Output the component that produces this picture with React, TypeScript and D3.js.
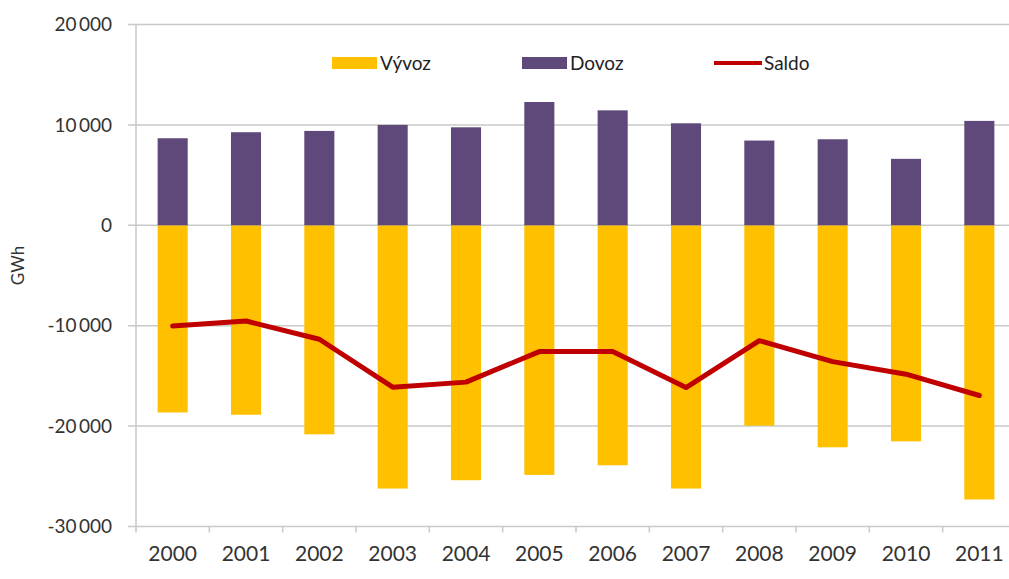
import React from "react";
import * as d3 from "d3";

const years = ["2000","2001","2002","2003","2004","2005","2006","2007","2008","2009","2010","2011"];
const vyvoz = [-18640,-18870,-20820,-26220,-25390,-24860,-23900,-26220,-19960,-22110,-21520,-27310];
const dovoz = [8670,9270,9400,10000,9760,12280,11450,10160,8440,8570,6620,10400];
const saldo = [-10030,-9530,-11350,-16120,-15620,-12580,-12580,-16160,-11490,-13580,-14830,-16950];
const yTicks = [20000,10000,0,-10000,-20000,-30000];
const legendItems = ["Vývoz","Dovoz","Saldo"];

const W = 1009, H = 579;
const FONT = "Lato, 'Open Sans', sans-serif";

export default function App() {
  const x = d3.scaleBand<string>().domain(years).range([136, 1016]).padding(0);
  const y = d3.scaleLinear().domain([-30000, 20000]).range([526.5, 24.5]);
  const bw = x.bandwidth() * 0.41;
  const cx = (yr: string) => (x(yr) as number) + x.bandwidth() / 2;
  const fmt = (v: number) => {
    const s = Math.abs(v).toString();
    const t = s.length > 3 ? s.slice(0, s.length - 3) + "\u2009" + s.slice(-3) : s;
    return (v < 0 ? "-" : "") + t;
  };
  const line = d3.line<number>().x((_, i) => cx(years[i])).y(d => y(d));
  const grid = "#c9c9c9";
  const textCol = "#333333";
  return (
    <svg width={W} height={H} style={{ position: "absolute", left: 0, top: 0, background: "#fff" }} fontFamily={FONT}>
      {yTicks.map(t => (
        <g key={t}>
          <line x1={128} x2={1009} y1={y(t)} y2={y(t)} stroke={grid} strokeWidth={1.5} />
          <text x={112} y={y(t)} dy="0.35em" textAnchor="end" fontSize={19} fill={textCol}>{fmt(t)}</text>
        </g>
      ))}
      <line x1={136} x2={136} y1={y(20000)} y2={y(-30000) + 6} stroke={grid} strokeWidth={1.5} />
      {years.map(yr => (
        <line key={"t" + yr} x1={(x(yr) as number) + x.bandwidth()} x2={(x(yr) as number) + x.bandwidth()} y1={y(-30000)} y2={y(-30000) + 6} stroke={grid} strokeWidth={1.5} />
      ))}
      {years.map((yr, i) => (
        <g key={yr}>
          <rect x={cx(yr) - bw / 2} width={bw} y={y(0)} height={y(vyvoz[i]) - y(0)} fill="#FFC000" />
          <rect x={cx(yr) - bw / 2} width={bw} y={y(dovoz[i])} height={y(0) - y(dovoz[i])} fill="#5F497A" />
          <text x={cx(yr)} y={561} textAnchor="middle" fontSize={21} fill={textCol}>{yr}</text>
        </g>
      ))}
      <path d={line(saldo) || ""} fill="none" stroke="#C00000" strokeWidth={5} strokeLinejoin="round" strokeLinecap="round" />
      <text transform={`translate(24,${y(-4000)}) rotate(-90)`} textAnchor="middle" fontSize={17} fill={textCol}>GWh</text>
      <g fontSize={19} fill="#222">
        <rect x={332} y={57} width={45} height={12} fill="#FFC000" />
        <text x={380} y={63} dy="0.35em">{legendItems[0]}</text>
        <rect x={522} y={57} width={45} height={12} fill="#5F497A" />
        <text x={570} y={63} dy="0.35em">{legendItems[1]}</text>
        <line x1={714} x2={762} y1={63} y2={63} stroke="#C00000" strokeWidth={4} />
        <text x={764} y={63} dy="0.35em">{legendItems[2]}</text>
      </g>
    </svg>
  );
}
